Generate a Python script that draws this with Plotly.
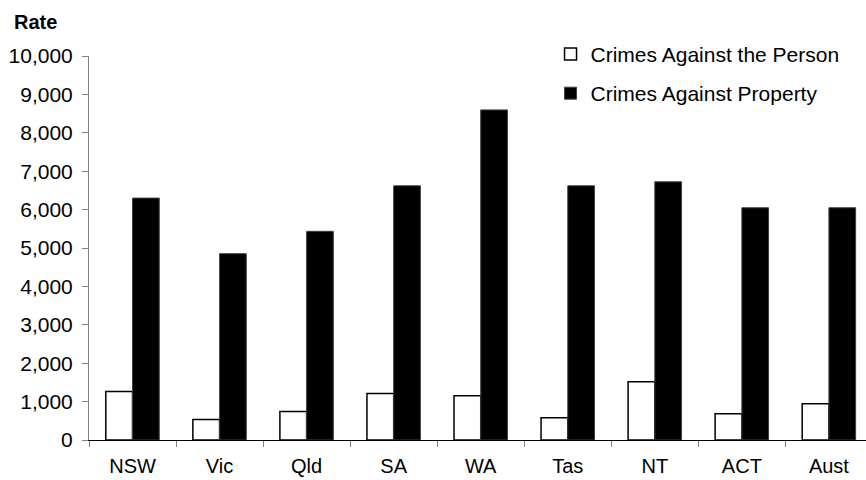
import plotly.graph_objects as go

# Recorded crime rates by state/territory
states = ["NSW", "Vic", "Qld", "SA", "WA", "Tas", "NT", "ACT", "Aust"]
person = [1260, 536, 744, 1212, 1152, 580, 1516, 684, 944]
property_ = [6300, 4852, 5434, 6620, 8596, 6620, 6724, 6048, 6048]
y_ticks = list(range(0, 10001, 1000))
y_tick_text = [f"{v:,}" for v in y_ticks]

FONT = "Liberation Sans, Arial, sans-serif"

fig = go.Figure()
fig.add_trace(go.Bar(
    x=states, y=person, name="Crimes Against the Person",
    marker=dict(color="white", line=dict(color="black", width=1.5)),
    legendgroup="a",
))
fig.add_trace(go.Bar(
    x=states, y=property_, name="Crimes Against Property",
    marker=dict(color="black", line=dict(color="#404040", width=1)),
    legendgroup="b",
))

fig.update_layout(
    width=866, height=480,
    margin=dict(l=89, r=0, t=56, b=40, pad=0),
    paper_bgcolor="white", plot_bgcolor="white",
    barmode="group", bargap=0.386, bargroupgap=0,
    font=dict(family=FONT, size=20, color="black"),
    showlegend=True,
    legend=dict(
        x=0.594, y=1.058, xanchor="left", yanchor="top",
        bgcolor="rgba(0,0,0,0)", borderwidth=0,
        font=dict(family=FONT, size=21, color="black"),
        traceorder="grouped", tracegroupgap=9,
    ),
    xaxis=dict(
        range=[-0.5, 8.426], showgrid=False, zeroline=False,
        showline=True, linecolor="black", linewidth=1,
        ticks="outside", tickson="boundaries", ticklen=6,
        tickcolor="#808080", tickwidth=1,
        ticklabelstandoff=8,
        tickfont=dict(family=FONT, size=20, color="black"),
    ),
    yaxis=dict(
        range=[0, 10000], showgrid=False, zeroline=False,
        showline=True, linecolor="#808080", linewidth=1,
        tickvals=y_ticks, ticktext=y_tick_text,
        ticks="outside", ticklen=6, tickcolor="#808080", tickwidth=1,
        ticklabelstandoff=5,
        tickfont=dict(family=FONT, size=21, color="black"),
    ),
    annotations=[dict(
        text="<b>Rate</b>", xref="paper", yref="paper",
        x=-0.099, y=1.088, xanchor="left", yanchor="middle",
        showarrow=False, font=dict(family=FONT, size=20, color="black"),
    )],
)

fig.write_html("out.html")
